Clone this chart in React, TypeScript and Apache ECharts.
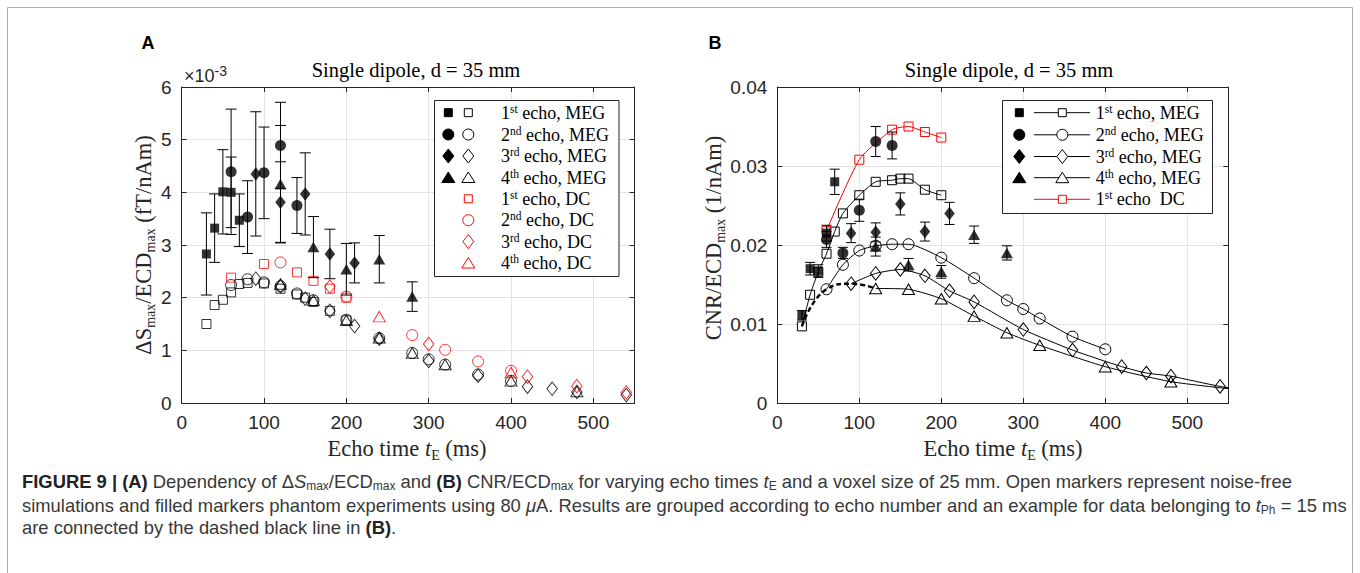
import React, { useEffect, useRef } from "react";
import * as echarts from "echarts";

// ---------------- data ----------------
// echo times (ms)
const simT1 = [30, 40, 50, 60, 70, 80, 100, 120, 140, 150, 160, 180, 200];
const simT2 = [60, 80, 100, 120, 140, 160, 200, 240, 280, 300, 320, 360, 400];
const simT3 = [90, 120, 150, 180, 210, 240, 300, 360, 420, 450, 480, 540, 600];
const simT4 = [120, 160, 200, 240, 280, 320, 400, 480, 560];
const dcT1 = [60, 100, 140, 160, 180, 200];
const dcT2 = [120, 200, 280, 320, 360, 400];
const dcT3 = [180, 300, 420, 480, 540];
const dcT4 = [240, 400];
const expT1 = [30, 40, 50, 60, 70];
const expT2 = [60, 80, 100, 120, 140];
const expT3 = [90, 120, 150, 180, 210];
const expT4 = [120, 160, 200, 240, 280];

// Panel A: dS_max/ECD_max (x 1e-3 fT/nAm)
const aSim1 = [1.5, 1.86, 1.96, 2.1, 2.26, 2.28, 2.27, 2.17, 2.06, 2.0, 1.92, 1.75, 1.57];
const aSim2 = [2.24, 2.35, 2.29, 2.22, 2.08, 1.95, 1.58, 1.23, 0.95, 0.83, 0.73, 0.54, 0.42];
const aSim3 = [2.36, 2.22, 1.98, 1.75, 1.46, 1.22, 0.8, 0.52, 0.31, 0.27, 0.21, 0.15, 0.11];
const aSim4 = [2.26, 1.95, 1.57, 1.24, 0.95, 0.73, 0.42, 0.22, 0.13];
const aDc1 = [2.38, 2.64, 2.48, 2.32, 2.17, 2.0];
const aDc2 = [2.67, 2.02, 1.29, 1.01, 0.79, 0.61];
const aDc3 = [2.21, 1.12, 0.5, 0.32, 0.2];
const aDc4 = [1.64, 0.58];
const aExp1 = [2.83, 3.32, 4.01, 4.0, 3.47];
const aErr1 = [0.78, 0.65, 0.8, 0.67, 0.5];
const aExp2 = [4.39, 3.53, 4.37, 4.89, 3.75];
const aErr2 = [1.19, 0.69, 0.87, 0.82, 0.53];
const aExp3 = [4.35, 3.81, 3.97, 2.83, 2.66];
const aErr3 = [1.18, 0.77, 0.78, 0.47, 0.38];
const aExp4 = [4.16, 2.96, 2.54, 2.73, 2.02];
const aErr4 = [1.11, 0.58, 0.49, 0.45, 0.28];

// Panel B: CNR/ECD_max (1/nAm)
const bSim1 = [0.0097, 0.0137, 0.0166, 0.0189, 0.0217, 0.024, 0.0263, 0.028, 0.0282, 0.0284, 0.0284, 0.027, 0.0263];
const bSim2 = [0.0144, 0.0175, 0.0193, 0.0199, 0.0201, 0.0201, 0.0184, 0.0158, 0.013, 0.0119, 0.0107, 0.0084, 0.0068];
const bSim3 = [0.0151, 0.0164, 0.0169, 0.0161, 0.0142, 0.0128, 0.0093, 0.0067, 0.0046, 0.0038, 0.0034, 0.0021, 0.0012];
const bSim4 = [0.0145, 0.0144, 0.0132, 0.011, 0.0089, 0.0073, 0.0046, 0.0027, 0.0017];
const bDc1 = [0.0218, 0.0308, 0.0346, 0.035, 0.0343, 0.0336];
const bExp1 = [0.0111, 0.017, 0.0167, 0.0215, 0.028];
const bErr1 = [0.0006, 0.0008, 0.0008, 0.001, 0.0016];
const bExp2 = [0.0207, 0.019, 0.0244, 0.0331, 0.0326];
const bErr2 = [0.001, 0.0007, 0.0014, 0.0019, 0.0017];
const bExp3 = [0.0215, 0.0216, 0.0252, 0.0217, 0.024];
const bErr3 = [0.0012, 0.0012, 0.0014, 0.0012, 0.0014];
const bExp4 = [0.0198, 0.0175, 0.0166, 0.0213, 0.019];
const bErr4 = [0.0012, 0.0008, 0.0008, 0.0011, 0.0009];

const ordinals = [["1", "st"], ["2", "nd"], ["3", "rd"], ["4", "th"]];
const titleText = "Single dipole, d = 35 mm";

// ---------------- styling ----------------
const SERIF = "'Liberation Serif', 'DejaVu Serif', serif";
const SANS = "'Liberation Sans', Arial, sans-serif";
const AX = "#262626";
const GRID_A = { left: 181.7, top: 87, width: 452.8, height: 316 };
const GRID_B = { left: 777.3, top: 87, width: 451, height: 316 };

const kinds = ["sq", "ci", "di", "tr"];
const symFor: any = { sq: "rect", ci: "circle", di: "diamond", tr: "triangle" };
const sizeFor: any = { sq: 9, ci: 11, di: [10.5, 13.5], tr: [12, 10.5] };

const zip = (t: number[], v: number[]) => t.map((x, i) => [x, v[i]]);
const zip3 = (t: number[], v: number[], e: number[]) => t.map((x, i) => [x, v[i], e[i]]);

function xAxes(grid: number) {
  const base = {
    type: "value",
    gridIndex: grid,
    min: 0,
    max: 550,
    interval: 100,
    axisLine: { show: true, onZero: false, lineStyle: { color: AX, width: 1 } },
    axisTick: { show: true, inside: true, length: 5, lineStyle: { color: AX } },
  };
  return [
    {
      ...base,
      position: "bottom",
      splitLine: { show: true, lineStyle: { color: "#e3e3e3", width: 1 } },
      axisLabel: { show: true, showMaxLabel: false, color: AX, fontFamily: SANS, fontSize: 19, margin: 10 },
    },
    { ...base, position: "top", splitLine: { show: false }, axisLabel: { show: false } },
  ];
}
function yAxes(grid: number, max: number, interval: number, fmt: (v: number) => string) {
  const base = {
    type: "value",
    gridIndex: grid,
    min: 0,
    max,
    interval,
    axisLine: { show: true, onZero: false, lineStyle: { color: AX, width: 1 } },
    axisTick: { show: true, inside: true, length: 5, lineStyle: { color: AX } },
  };
  return [
    {
      ...base,
      position: "left",
      splitLine: { show: true, lineStyle: { color: "#e3e3e3", width: 1 } },
      axisLabel: { show: true, color: AX, fontFamily: SANS, fontSize: 19, margin: 10, formatter: fmt },
    },
    { ...base, position: "right", splitLine: { show: false }, axisLabel: { show: false } },
  ];
}

function errSeries(data: number[][], xi: number, yi: number, hw: number) {
  return {
    type: "custom",
    xAxisIndex: xi,
    yAxisIndex: yi,
    z: 3,
    data,
    encode: { x: 0, y: 1 },
    renderItem: (params: any, api: any) => {
      const x = api.value(0);
      const y = api.value(1);
      const e = api.value(2);
      const top = api.coord([x, y + e]);
      const bot = api.coord([x, y - e]);
      const st = { stroke: "#000", lineWidth: 1 };
      return {
        type: "group",
        children: [
          { type: "line", shape: { x1: top[0], y1: top[1], x2: bot[0], y2: bot[1] }, style: st },
          { type: "line", shape: { x1: top[0] - hw, y1: top[1], x2: top[0] + hw, y2: top[1] }, style: st },
          { type: "line", shape: { x1: bot[0] - hw, y1: bot[1], x2: bot[0] + hw, y2: bot[1] }, style: st },
        ],
      };
    },
  };
}

function scatter(data: number[][], kind: string, xi: number, yi: number, filled: boolean, color: string, z: number) {
  return {
    type: "scatter",
    xAxisIndex: xi,
    yAxisIndex: yi,
    z,
    symbol: symFor[kind],
    symbolSize: sizeFor[kind],
    data,
    itemStyle: filled
      ? { color, borderColor: color, borderWidth: 0 }
      : { color: "rgba(0,0,0,0)", borderColor: color, borderWidth: 1 },
    emphasis: { disabled: true },
  };
}

function simLine(data: number[][], kind: string, color: string) {
  return {
    type: "line",
    xAxisIndex: 2,
    yAxisIndex: 2,
    z: 2,
    smooth: 0.2,
    data,
    symbol: symFor[kind],
    symbolSize: sizeFor[kind],
    showAllSymbol: true,
    lineStyle: { color, width: 1 },
    itemStyle: { color: "rgba(0,0,0,0)", borderColor: color, borderWidth: 1 },
    emphasis: { disabled: true },
  };
}

// legend marker graphics
function mk(kind: string, cx: number, cy: number, fill: string, stroke: string) {
  const style = { fill, stroke, lineWidth: 1 };
  if (kind === "sq") return { type: "rect", z: 101, shape: { x: cx - 4, y: cy - 4, width: 8, height: 8 }, style };
  if (kind === "ci") return { type: "circle", z: 101, shape: { cx, cy, r: 5.5 }, style };
  if (kind === "di")
    return { type: "polygon", z: 101, shape: { points: [[cx, cy - 7], [cx + 5.5, cy], [cx, cy + 7], [cx - 5.5, cy]] }, style };
  return { type: "polygon", z: 101, shape: { points: [[cx, cy - 5.5], [cx + 6.5, cy + 5], [cx - 6.5, cy + 5]] }, style };
}
function legText(x: number, y: number, ord: string[], rest: string) {
  return {
    type: "text",
    z: 101,
    x,
    y,
    style: {
      text: `{n|${ord[0]}}{s|${ord[1]}}{n| ${rest}}`,
      align: "left",
      verticalAlign: "middle",
      textAlign: "left",
      textVerticalAlign: "middle",
      rich: {
        n: { fontSize: 18, fontFamily: SERIF, fill: "#000", lineHeight: 20 },
        s: { fontSize: 11.5, fontFamily: SERIF, fill: "#000", lineHeight: 11, verticalAlign: "top" },
      },
    },
  };
}

function buildGraphics() {
  const g: any[] = [];
  // frame
  g.push({ type: "rect", z: 1, shape: { x: 7.5, y: 7.5, width: 1345, height: 600 }, style: { fill: "none", stroke: "#b0b0b0", lineWidth: 1 } });
  // panel letters
  g.push({ type: "text", z: 101, x: 148, y: 43, style: { text: "A", font: `bold 18px ${SANS}`, fill: "#000", align: "center", verticalAlign: "middle", textAlign: "center", textVerticalAlign: "middle" } });
  g.push({ type: "text", z: 101, x: 715, y: 43, style: { text: "B", font: `bold 18px ${SANS}`, fill: "#000", align: "center", verticalAlign: "middle", textAlign: "center", textVerticalAlign: "middle" } });
  // titles
  for (const cx of [416, 1009]) {
    g.push({ type: "text", z: 101, x: cx, y: 70, style: { text: titleText, font: `20.5px ${SERIF}`, fill: "#000", align: "center", verticalAlign: "middle", textAlign: "center", textVerticalAlign: "middle" } });
  }
  // x10^-3
  g.push({
    type: "text", z: 101, x: 184, y: 76,
    style: {
      text: "{n|×10}{s|-3}", align: "left", verticalAlign: "middle", textAlign: "left", textVerticalAlign: "middle",
      rich: {
        n: { fontSize: 18, fontFamily: SANS, fill: AX, lineHeight: 24 },
        s: { fontSize: 14, fontFamily: SANS, fill: AX, lineHeight: 14, verticalAlign: "top" },
      },
    },
  });
  // axis names
  const xRich = {
    n: { fontSize: 22.5, fontFamily: SERIF, fill: AX, lineHeight: 28 },
    i: { fontSize: 22.5, fontFamily: SERIF, fontStyle: "italic", fill: AX, lineHeight: 28 },
    sub: { fontSize: 14, fontFamily: SERIF, fill: AX, lineHeight: 16, verticalAlign: "bottom" },
  };
  for (const cx of [407, 1003]) {
    g.push({ type: "text", z: 101, x: cx, y: 448, style: { text: "{n|Echo time }{i|t}{sub|E}{n| (ms)}", align: "center", verticalAlign: "middle", textAlign: "center", textVerticalAlign: "middle", rich: xRich } });
  }
  g.push({ type: "text", z: 101, x: 143, y: 245, rotation: Math.PI / 2, style: { text: "{n|ΔS}{sub|max}{n|/ECD}{sub|max}{n| (fT/nAm)}", align: "center", verticalAlign: "middle", textAlign: "center", textVerticalAlign: "middle", rich: xRich } });
  g.push({ type: "text", z: 101, x: 713, y: 238, rotation: Math.PI / 2, style: { text: "{n|CNR/ECD}{sub|max}{n| (1/nAm)}", align: "center", verticalAlign: "middle", textAlign: "center", textVerticalAlign: "middle", rich: xRich } });

  // legend A
  g.push({ type: "rect", z: 100, shape: { x: 434.5, y: 100.5, width: 184.5, height: 176 }, style: { fill: "#fff", stroke: AX, lineWidth: 1 } });
  const rowsA = [112.7, 134.5, 156, 177.5, 198.8, 220.2, 241.6, 263];
  for (let i = 0; i < 4; i++) {
    g.push(mk(kinds[i], 448.3, rowsA[i], "#000", "#000"));
    g.push(mk(kinds[i], 468.3, rowsA[i], "none", "#000"));
    g.push(legText(501, rowsA[i], ordinals[i], "echo, MEG"));
  }
  for (let i = 0; i < 4; i++) {
    g.push(mk(kinds[i], 468.3, rowsA[i + 4], "none", "#ff0000"));
    g.push(legText(501, rowsA[i + 4], ordinals[i], "echo, DC"));
  }
  // legend B
  g.push({ type: "rect", z: 100, shape: { x: 1002.5, y: 100.5, width: 210, height: 113 }, style: { fill: "#fff", stroke: AX, lineWidth: 1 } });
  const rowsB = [112.7, 134.8, 156.5, 177.7, 199.3];
  for (let i = 0; i < 4; i++) {
    g.push(mk(kinds[i], 1019.3, rowsB[i], "#000", "#000"));
    g.push({ type: "line", z: 101, shape: { x1: 1034, y1: rowsB[i], x2: 1090, y2: rowsB[i] }, style: { stroke: "#000", lineWidth: 1 } });
    g.push(mk(kinds[i], 1062.3, rowsB[i], "#fff", "#000"));
    g.push(legText(1095.7, rowsB[i], ordinals[i], "echo, MEG"));
  }
  g.push({ type: "line", z: 101, shape: { x1: 1034, y1: rowsB[4], x2: 1090, y2: rowsB[4] }, style: { stroke: "#ff0000", lineWidth: 1 } });
  g.push(mk("sq", 1062.3, rowsB[4], "#fff", "#ff0000"));
  g.push(legText(1095.7, rowsB[4], ordinals[0], "echo  DC"));

  // caption
  const F = 18.4;
  const capRich = {
    n: { fontSize: F, fontFamily: SANS, fill: "#383838", lineHeight: 22 },
    b: { fontSize: F, fontFamily: SANS, fontWeight: "bold", fill: "#222", lineHeight: 22 },
    i: { fontSize: F, fontFamily: SANS, fontStyle: "italic", fill: "#383838", lineHeight: 22 },
    sub: { fontSize: 12, fontFamily: SANS, fill: "#383838", lineHeight: 13, verticalAlign: "bottom" },
  };
  const capLines = [
    "{b|FIGURE 9 | (A)}{n| Dependency of Δ}{i|S}{sub|max}{n|/ECD}{sub|max}{n| and }{b|(B)}{n| CNR/ECD}{sub|max}{n| for varying echo times }{i|t}{sub|E}{n| and a voxel size of 25 mm. Open markers represent noise-free}",
    "{n|simulations and filled markers phantom experiments using 80 }{i|μ}{n|A. Results are grouped according to echo number and an example for data belonging to }{i|t}{sub|Ph}{n| = 15 ms}",
    "{n|are connected by the dashed black line in }{b|(B)}{n|.}",
  ];
  const capY = [481, 505, 527];
  capLines.forEach((t, k) => {
    g.push({ type: "text", z: 101, x: 22, y: capY[k], style: { text: t, align: "left", verticalAlign: "middle", textAlign: "left", textVerticalAlign: "middle", rich: capRich } });
  });
  return g;
}

function buildOption() {
  const series: any[] = [];
  // ---- Panel A ----
  const aExp = [zip3(expT1, aExp1, aErr1), zip3(expT2, aExp2, aErr2), zip3(expT3, aExp3, aErr3), zip3(expT4, aExp4, aErr4)];
  const aSim = [zip(simT1, aSim1), zip(simT2, aSim2), zip(simT3, aSim3), zip(simT4, aSim4)];
  const aDc = [zip(dcT1, aDc1), zip(dcT2, aDc2), zip(dcT3, aDc3), zip(dcT4, aDc4)];
  for (let i = 0; i < 4; i++) series.push(scatter(aSim[i], kinds[i], 0, 0, false, "#000", 2));
  for (let i = 0; i < 4; i++) series.push(scatter(aDc[i], kinds[i], 0, 0, false, "#ff0000", 2));
  for (let i = 0; i < 4; i++) series.push(errSeries(aExp[i], 0, 0, 5.5));
  for (let i = 0; i < 4; i++) series.push(scatter(aExp[i].map((d) => [d[0], d[1]]), kinds[i], 0, 0, true, "#000", 4));

  // ---- Panel B ----
  const bSim = [zip(simT1, bSim1), zip(simT2, bSim2), zip(simT3, bSim3), zip(simT4, bSim4)];
  for (let i = 0; i < 4; i++) series.push(simLine(bSim[i], kinds[i], "#000"));
  series.push(simLine(zip(dcT1, bDc1), "sq", "#ff0000"));
  // dashed connection for t_Ph = 15 ms (first point of each echo)
  series.push({
    type: "line",
    xAxisIndex: 2,
    yAxisIndex: 2,
    z: 2,
    smooth: 0.5,
    symbol: "none",
    data: [bSim[0][0], bSim[1][0], bSim[2][0], bSim[3][0]],
    lineStyle: { color: "#000", width: 2.4, type: [5, 3] },
    emphasis: { disabled: true },
  });
  const bExp = [zip3(expT1, bExp1, bErr1), zip3(expT2, bExp2, bErr2), zip3(expT3, bExp3, bErr3), zip3(expT4, bExp4, bErr4)];
  for (let i = 0; i < 4; i++) series.push(errSeries(bExp[i], 2, 2, 5));
  for (let i = 0; i < 4; i++) series.push(scatter(bExp[i].map((d) => [d[0], d[1]]), kinds[i], 2, 2, true, "#000", 4));

  return {
    animation: false,
    backgroundColor: "#fff",
    grid: [
      { ...GRID_A, containLabel: false },
      { ...GRID_B, containLabel: false },
    ],
    xAxis: [...xAxes(0), ...xAxes(1)],
    yAxis: [
      ...yAxes(0, 6, 1, (v: number) => String(Math.round(v))),
      ...yAxes(1, 0.04, 0.01, (v: number) => (v === 0 ? "0" : v.toFixed(2))),
    ],
    series,
    graphic: { elements: buildGraphics() },
  };
}

export default function App() {
  const ref = useRef<HTMLDivElement>(null);
  useEffect(() => {
    const chart = echarts.init(ref.current as HTMLDivElement, null, { renderer: "svg" });
    chart.setOption(buildOption() as any);
    return () => chart.dispose();
  }, []);
  return (
    <div
      ref={ref}
      style={{ position: "fixed", left: 0, top: 0, width: 1360, height: 573, background: "#fff" }}
    />
  );
}
